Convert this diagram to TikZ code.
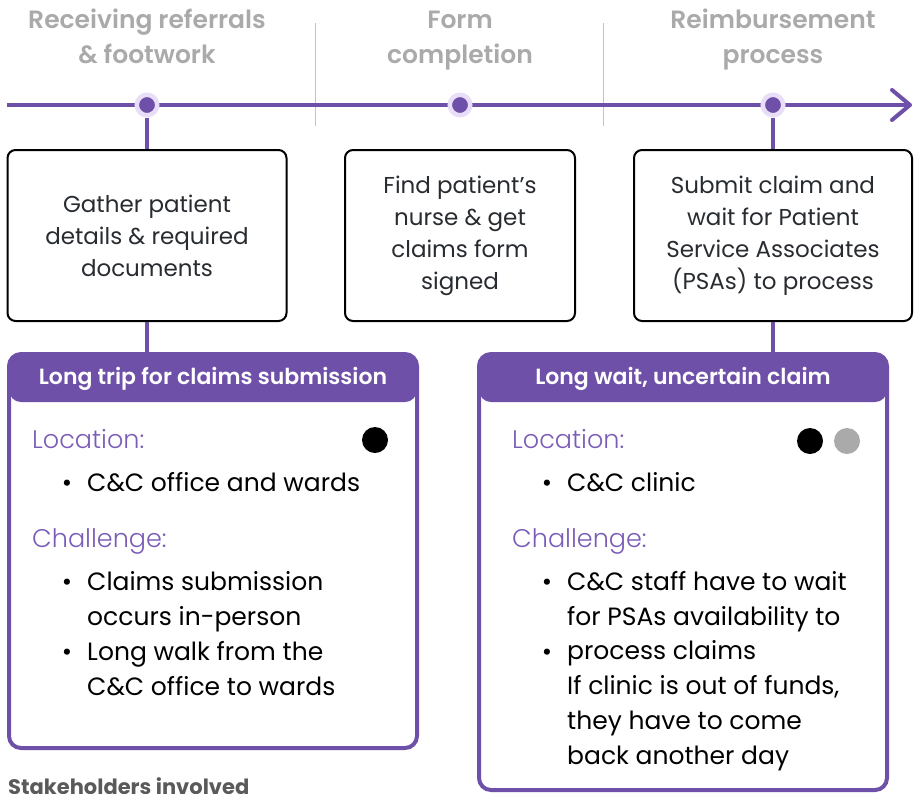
\documentclass[tikz,border=0pt]{standalone}
\usepackage{fontspec}
\setmainfont{Poppins}
\newfontfamily\headfont{Poppins}[UprightFont=* SemiBold]
\newfontfamily\lightfont{Poppins}[UprightFont=* Light]
\usepackage{tikz}
\usetikzlibrary{arrows.meta,positioning}
\definecolor{mypurple}{RGB}{111,80,168}
\definecolor{mylabel}{RGB}{122,92,184}
\definecolor{myring}{RGB}{232,222,247}
\definecolor{mygrey}{RGB}{170,170,170}
\definecolor{mysep}{RGB}{195,195,195}
\definecolor{mytext}{RGB}{40,44,48}
\definecolor{mydark}{RGB}{90,90,90}

\begin{document}
\begin{tikzpicture}[x=1pt, y=-1pt,
    phase/.style = {anchor=base, text=mygrey, align=center,
      font=\headfont\fontsize{25}{35}\selectfont},
    divider/.style = {draw=mysep, line width=1pt},
    timeline/.style = {draw=mypurple, line width=4pt,
      -{Straight Barb[length=18pt,width=30pt,round]}},
    dot/.style = {circle, fill=mypurple, draw=myring, line width=4.5pt,
      minimum size=20.5pt, inner sep=0pt},
    stepbox/.style = {rectangle, rounded corners=8pt, draw=black,
      line width=2pt, minimum width=279pt, minimum height=171pt,
      align=center, text=mytext, font=\fontsize{23}{32}\selectfont},
    stem/.style = {draw=mypurple, line width=4pt},
    card/.style = {rectangle, rounded corners=12pt, draw=mypurple,
      line width=4pt, minimum width=408pt, inner sep=0pt,
      path picture={\fill[mypurple] (path picture bounding box.north west)
        rectangle ([yshift=-48pt]path picture bounding box.north east);}},
    cardhead/.style = {anchor=base, text=white,
      font=\headfont\fontsize{22}{26}\selectfont},
    field/.style = {anchor=base west, inner sep=0pt, text=mylabel,
      font=\lightfont\fontsize{25.5}{34}\selectfont},
    item/.style = {anchor=base west, inner sep=0pt, align=left,
      font=\fontsize{25}{34.7}\selectfont},
    bul/.style = {anchor=base, inner sep=0pt, font=\fontsize{25}{34.7}\selectfont},
    who/.style = {circle, minimum size=26pt, inner sep=0pt}]
    \useasboundingbox (0,0) rectangle (918,793);

    \node[phase] (ph1) at (147,63) {Receiving referrals\\\& footwork};
    \node[phase] (ph2) at (460,63) {Form\\completion};
    \node[phase] (ph3) at (773,63) {Reimbursement\\process};
    \draw[divider] (315,23) -- (315,126);
    \draw[divider] (603,23) -- (603,126);

    \coordinate (t0) at (7,105);
    \coordinate (t1) at (912,105);
    \draw[timeline] (t0) -- (t1);
    \node[dot] (m1) at (147,105) {};
    \node[dot] (m2) at (460,105) {};
    \node[dot] (m3) at (773,105) {};

    \node[stepbox] (s1) at (147,235.5) {Gather patient\\details \& required\\documents};
    \node[stepbox, minimum width=230pt] (s2) at (460,235.5)
      {Find patient’s\\nurse \& get\\claims form\\signed};
    \node[stepbox, minimum width=278pt] (s3) at (773,235.5)
      {Submit claim and\\wait for Patient\\Service Associates\\(PSAs) to process};

    \node[card, minimum height=394pt] (c1) at (213,551) {};
    \node[card, minimum height=436pt] (c2) at (683,572) {};
    \draw[stem] (m1) -- (s1);
    \draw[stem] (s1.south) -- (s1.south |- c1.north);
    \draw[stem] (m3) -- (s3);
    \draw[stem] (s3.south) -- (s3.south |- c2.north);

    \node[cardhead] (h1) at ([yshift=-32pt]c1.north) {Long trip for claims submission};
    \node[field] (l1) at (32,448) {Location:};
    \node[who, fill=black] (w1) at (375,440) {};
    \node[bul] (b1) at (67,491) {\textbullet};
    \node[item] (i1) at (87,491) {C\&C office and wards};
    \node[field] (k1) at (32,547) {Challenge:};
    \node[bul] (b2) at (67,590) {\textbullet};
    \node[item] (i2) at (87,625) {Claims submission\\occurs in-person};
    \node[bul] (b3) at (67,660) {\textbullet};
    \node[item] (i3) at (87,695) {Long walk from the\\C\&C office to wards};

    \node[cardhead] (h2) at ([yshift=-32pt]c2.north) {Long wait, uncertain claim};
    \node[field] (l2) at (512,448) {Location:};
    \node[who, fill=black] (w2) at (810,441) {};
    \node[who, fill=mygrey] (w3) at (847,441) {};
    \node[bul] (b4) at (547,491) {\textbullet};
    \node[item] (i4) at (567,491) {C\&C clinic};
    \node[field] (k2) at (512,547) {Challenge:};
    \node[bul] (b5) at (547,590) {\textbullet};
    \node[item] (i5) at (567,625) {C\&C staff have to wait\\for PSAs availability to};
    \node[bul] (b6) at (547,660) {\textbullet};
    \node[item] (i6) at (567,764)
      {process claims\\If clinic is out of funds,\\they have to come\\back another day};

    \node[anchor=base west, inner sep=0pt, text=mydark,
      font=\bfseries\fontsize{21}{24}\selectfont] (st) at (8,794) {Stakeholders involved};
  \end{tikzpicture}
\end{document}
